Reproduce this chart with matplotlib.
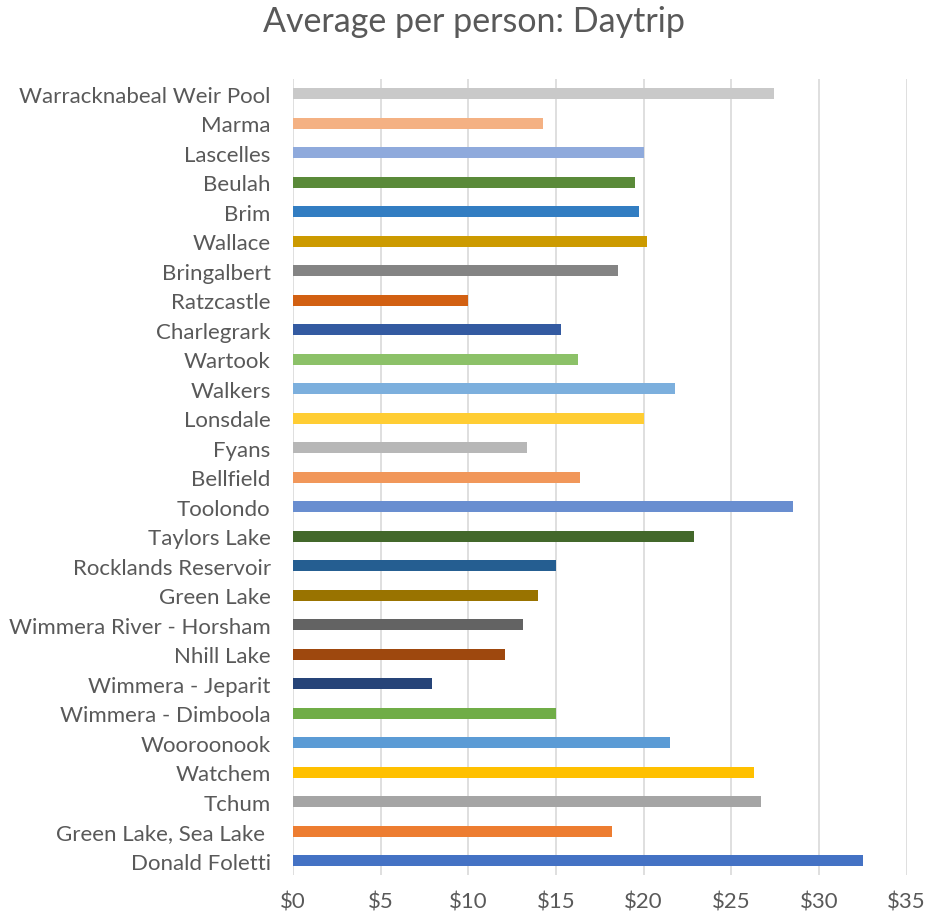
import matplotlib.pyplot as plt
from matplotlib.ticker import FuncFormatter

# sites listed from bottom to top of chart
sites = [
    "Donald Foletti", "Green Lake, Sea Lake ", "Tchum", "Watchem", "Wooroonook",
    "Wimmera - Dimboola", "Wimmera - Jeparit", "Nhill Lake", "Wimmera River - Horsham",
    "Green Lake", "Rocklands Reservoir", "Taylors Lake", "Toolondo", "Bellfield",
    "Fyans", "Lonsdale", "Walkers", "Wartook", "Charlegrark", "Ratzcastle",
    "Bringalbert", "Wallace", "Brim", "Beulah", "Lascelles", "Marma",
    "Warracknabeal Weir Pool",
]
avg_spend = [
    32.53, 18.21, 26.70, 26.32, 21.51,
    15.00, 7.94, 12.10, 13.13,
    13.99, 15.01, 22.88, 28.52, 16.38,
    13.36, 20.00, 21.80, 16.27, 15.30, 10.00,
    18.55, 20.20, 19.74, 19.52, 20.01, 14.27,
    27.42,
]
bar_colors = [
    "#4472C4", "#ED7D31", "#A5A5A5", "#FFC000", "#5B9BD5",
    "#70AD47", "#264478", "#9E480E", "#636363",
    "#997300", "#255E91", "#43682B", "#698ED0", "#F1975A",
    "#B7B7B7", "#FFCD33", "#7CAFDD", "#8CC168", "#335AA1", "#D26012",
    "#848484", "#CC9A00", "#327DC2", "#5A8A39", "#8FAADC", "#F4B183",
    "#C9C9C9",
]
x_ticks = [0, 5, 10, 15, 20, 25, 30, 35]

plt.rcParams['font.family'] = ['Lato', 'DejaVu Sans']
text_col = "#595959"

fig = plt.figure(figsize=(9.28, 9.2), dpi=100)
ax = fig.add_axes([0.3157, 0.0475, 0.977 - 0.3157, 0.8655])

ax.barh(range(len(sites)), avg_spend, height=0.37, color=bar_colors, zorder=3)

ax.set_xlim(0, 35)
ax.set_ylim(-0.5, len(sites) - 0.5)
ax.set_xticks(x_ticks)
ax.xaxis.set_major_formatter(FuncFormatter(lambda v, p: f"${v:.0f}"))
ax.set_yticks(range(len(sites)))
ax.set_yticklabels(sites)

ax.grid(axis='x', color="#D9D9D9", linewidth=1.2, zorder=0)
for s in ax.spines.values():
    s.set_visible(False)
ax.tick_params(axis='both', length=0, colors=text_col, labelsize=16)
ax.tick_params(axis='y', pad=16)
ax.tick_params(axis='x', pad=12)

fig.suptitle("Average per person: Daytrip", x=0.511, y=0.993, va='top',
             fontsize=24.5, color=text_col)

fig.savefig("out.png", dpi=100)
